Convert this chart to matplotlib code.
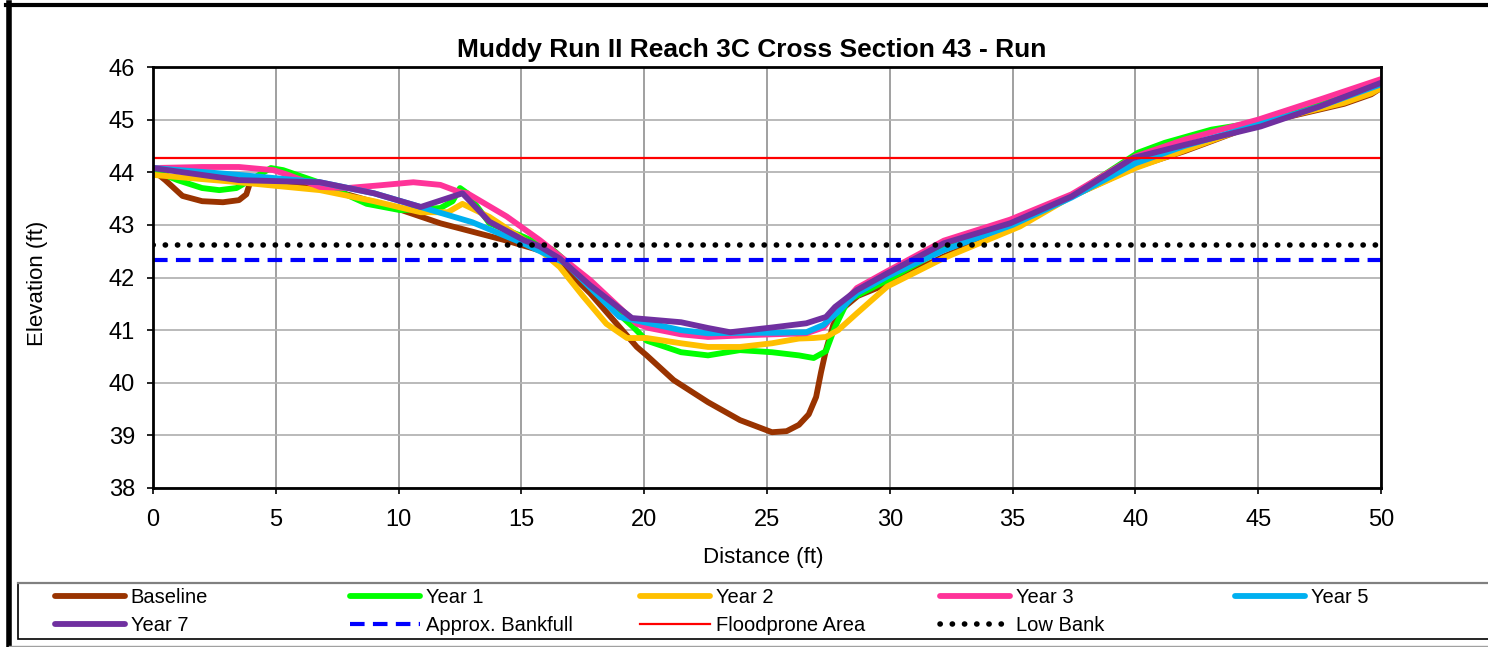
import matplotlib.pyplot as plt
from matplotlib.lines import Line2D
from matplotlib.patches import Rectangle

plt.rcParams['font.family'] = ['Liberation Sans', 'DejaVu Sans']

TITLE = "Muddy Run II Reach 3C Cross Section 43 - Run"

# Survey points, distance (ft) / elevation (ft)
baseline_x = [0, 0.5, 1.2, 2.0, 2.85, 3.5, 3.8, 3.95, 4.5, 5, 7, 10, 11.7, 14.4, 16.15, 17.8, 19.7,
              20.1, 21.2, 22.6, 23.9, 25.2, 25.8, 26.3, 26.7, 27.0, 27.2, 27.4, 27.7, 28.0, 28.7,
              30, 32.2, 35, 37.4, 40, 42, 45, 48.5, 49.6, 50]
baseline_y = [44.04, 43.85, 43.55, 43.45, 43.43, 43.47, 43.58, 43.8, 43.82, 43.8, 43.7, 43.3, 43.03,
              42.7, 42.46, 41.7, 40.68, 40.52, 40.05, 39.63, 39.29, 39.06, 39.08, 39.2, 39.4, 39.73,
              40.2, 40.62, 41.1, 41.38, 41.65, 41.9, 42.4, 42.95, 43.54, 44.1, 44.4, 44.92, 45.3,
              45.48, 45.6]

year1_x = [0, 1, 2, 2.7, 3.4, 3.95, 4.8, 5.3, 6.8, 8.7, 10.06, 11.0, 11.7, 12.2, 12.5, 12.8, 13.7,
           15.1, 16.3, 17.8, 19.1, 19.55, 20.1, 21.5, 22.6, 23.9, 25.2, 26.3, 26.9, 27.4, 27.77,
           28.3, 29.9, 32.2, 35, 37.4, 40.1, 41.2, 43.1, 45, 47.5, 50]
year1_y = [44.04, 43.85, 43.7, 43.66, 43.7, 43.85, 44.08, 44.04, 43.8, 43.4, 43.28, 43.3, 43.32,
           43.45, 43.7, 43.6, 43.03, 42.77, 42.52, 41.9, 41.25, 41.06, 40.8, 40.58, 40.52, 40.62,
           40.58, 40.52, 40.47, 40.6, 41.06, 41.57, 41.95, 42.55, 43.05, 43.55, 44.37, 44.56,
           44.81, 44.95, 45.3, 45.7]

year2_x = [0, 3.5, 6.8, 9, 10.9, 12.0, 12.6, 13.7, 15.0, 15.75, 16.56, 17.5, 18.46, 19.3, 20.1,
           21.5, 22.6, 23.9, 25.2, 26.3, 26.9, 27.4, 27.9, 28.66, 29.9, 32.2, 35.3, 37.4, 40,
           41.5, 45.1, 48.5, 49.6, 50]
year2_y = [43.95, 43.81, 43.66, 43.45, 43.24, 43.24, 43.4, 43.15, 42.75, 42.52, 42.2, 41.65, 41.12,
           40.85, 40.85, 40.75, 40.68, 40.68, 40.75, 40.84, 40.85, 40.87, 41.0, 41.32, 41.83,
           42.37, 42.97, 43.54, 44.08, 44.33, 44.94, 45.32, 45.5, 45.6]

year3_x = [0, 2, 3.5, 4.9, 5.5, 6.8, 7.9, 9.2, 10.6, 11.7, 12.5, 12.8, 14.4, 15.75, 17.8, 19.7,
           20.2, 21.5, 22.6, 24, 25.2, 26.6, 27.3, 27.9, 28.66, 29.9, 32.2, 34.9, 37.4, 40, 42,
           45, 47.5, 50]
year3_y = [44.08, 44.1, 44.1, 44.04, 43.95, 43.72, 43.7, 43.75, 43.81, 43.76, 43.62, 43.6, 43.16,
           42.71, 41.95, 41.12, 41.04, 40.92, 40.87, 40.9, 40.92, 40.94, 41.05, 41.4, 41.8, 42.12,
           42.7, 43.1, 43.58, 44.3, 44.62, 45.0, 45.38, 45.77]

year5_x = [0, 3.5, 6.8, 9, 10.9, 13.0, 15.07, 16.8, 19.0, 19.5, 21.5, 22.6, 24, 25.2, 26.6, 27.3,
           27.9, 28.66, 29.9, 32.2, 35, 37.4, 40, 42, 45, 47.5, 50]
year5_y = [44.08, 43.95, 43.81, 43.6, 43.34, 43.05, 42.65, 42.27, 41.25, 41.2, 41.0, 40.94, 40.95,
           40.95, 40.96, 41.1, 41.35, 41.7, 42.02, 42.52, 43.0, 43.52, 44.17, 44.5, 44.9, 45.25,
           45.67]

year7_x = [0, 3.5, 6.8, 9, 10.9, 12.6, 13.7, 15.1, 15.75, 16.56, 17.8, 19.5, 21.5, 22.6, 23.5,
           25.2, 26.6, 27.4, 27.77, 28.66, 29.9, 32.2, 34.9, 37.4, 39.9, 42, 45.1, 47.5, 50]
year7_y = [44.08, 43.85, 43.81, 43.6, 43.34, 43.6, 43.06, 42.71, 42.59, 42.36, 41.85, 41.23, 41.15,
           41.04, 40.96, 41.05, 41.13, 41.25, 41.44, 41.76, 42.08, 42.65, 43.03, 43.54, 44.27,
           44.52, 44.87, 45.25, 45.7]

# Reference elevations
bankfull_elev = 42.33
floodprone_elev = 44.28
low_bank_elev = 42.62
section_extent = [0, 50]

x_ticks = list(range(0, 51, 5))
y_ticks = list(range(38, 47))

W, H = 1488, 647
fig = plt.figure(figsize=(W / 100, H / 100), dpi=100)
ax = fig.add_axes([153 / W, 1 - 488 / H, (1381 - 153) / W, (488 - 67) / H])

series = [
    ("Baseline", baseline_x, baseline_y, "#993300"),
    ("Year 1", year1_x, year1_y, "#00FF00"),
    ("Year 2", year2_x, year2_y, "#FFC000"),
    ("Year 3", year3_x, year3_y, "#FF3399"),
    ("Year 5", year5_x, year5_y, "#00B0F0"),
    ("Year 7", year7_x, year7_y, "#7030A0"),
]
handles = []
for name, xs, ys, color in series:
    ln, = ax.plot(xs, ys, color=color, lw=4.2, label=name, zorder=3,
                  solid_joinstyle='round', solid_capstyle='round')
    handles.append(ln)

ln, = ax.plot(section_extent, [bankfull_elev] * 2, color="#0000FF", lw=3.0,
              dashes=(3.5, 2.0), label="Approx. Bankfull", zorder=4)
handles.append(ln)
ln, = ax.plot(section_extent, [floodprone_elev] * 2, color="#FF0000", lw=1.6,
              label="Floodprone Area", zorder=4)
handles.append(ln)
ln, = ax.plot(section_extent, [low_bank_elev] * 2, color="black", lw=4.0,
              dashes=(0.05, 2.15), dash_capstyle='round', label="Low Bank", zorder=4)
handles.append(ln)

ax.set_xlim(0, 50)
ax.set_ylim(38, 46)
ax.set_xticks(x_ticks)
ax.set_yticks(y_ticks)
ax.tick_params(axis='both', direction='out', length=4.3, width=1.2, labelsize=17)
ax.tick_params(axis='x', pad=11)
ax.tick_params(axis='y', pad=8.5)
ax.xaxis.grid(True, color="#999999", lw=1.3)
ax.yaxis.grid(True, color="#b4b4b4", lw=1.3)
ax.set_axisbelow(True)
for sp in ax.spines.values():
    sp.set_linewidth(2)
    sp.set_color("black")
    sp.set_zorder(5)

fig.text(752 / W, 1 - 57 / H, TITLE, ha='center', va='baseline', fontsize=19, fontweight='bold')
fig.text(763 / W, 1 - 563 / H, "Distance (ft)", ha='center', va='baseline', fontsize=16)
fig.text(38 / W, 1 - 283 / H, "Elevation (ft)", ha='center', va='center', rotation=90, fontsize=16)

# Legend box, runs off the right edge
fig.add_artist(Rectangle((18 / W, 1 - 639 / H), 1.2, (639 - 583) / H, transform=fig.transFigure,
                         facecolor='white', edgecolor='black', lw=1.2))
fig.add_artist(Line2D([18 / W, 1], [1 - 583 / H] * 2, color="#808080", lw=1.6))

# One legend per column so the columns sit on a fixed pitch
columns = [[0, 5], [1, 6], [2, 7], [3, 8], [4]]
col_left = [55, 350, 640, 940, 1235]
for idx, left in zip(columns, col_left):
    fig.legend([handles[i] for i in idx], [handles[i].get_label() for i in idx],
               loc='upper left', bbox_to_anchor=(left / W, 1 - 588 / H), frameon=False,
               fontsize=14.5, handlelength=3.5, handletextpad=0.25, borderpad=0,
               borderaxespad=0, labelspacing=0.45)

# Outer chart frame
fig.add_artist(Line2D([8.5 / W, 8.5 / W], [0, 1 - 3 / H], color='black', lw=4))
fig.add_artist(Line2D([6 / W, 1], [1 - 5 / H] * 2, color='black', lw=3))
fig.add_artist(Line2D([8.5 / W, 1], [1 - 646 / H] * 2, color='#a0a0a0', lw=1))

fig.savefig("out.png", dpi=100)
